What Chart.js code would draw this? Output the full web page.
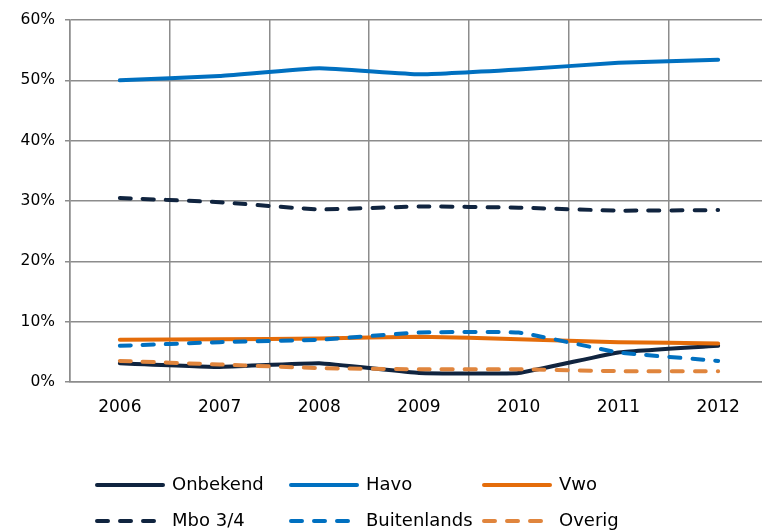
<!DOCTYPE html>
<html>
<head>
<meta charset="utf-8">
<script src="https://cdn.jsdelivr.net/npm/chart.js@4.4.1/dist/chart.umd.min.js"></script>
<style>
  html, body { margin: 0; padding: 0; background: #fff; overflow: hidden; }
  #wrap { width: 790px; height: 531px; }
</style>
</head>
<body>
<div id="wrap"><canvas id="lineChart" width="790" height="531"></canvas></div>
<script>
var years = ["2006", "2007", "2008", "2009", "2010", "2011", "2012"];
var yTicks = [0, 10, 20, 30, 40, 50, 60];

var onbekend    = [3.1, 2.5, 3.1, 1.5, 1.5, 4.9, 6.0];
var havo        = [50.0, 50.7, 52.0, 51.0, 51.8, 52.9, 53.4];
var vwo         = [7.0, 7.1, 7.2, 7.5, 7.1, 6.6, 6.4];
var mbo34       = [30.5, 29.8, 28.6, 29.1, 28.9, 28.4, 28.5];
var buitenlands = [6.0, 6.6, 7.0, 8.2, 8.2, 4.9, 3.5];
var overig      = [3.5, 2.9, 2.3, 2.1, 2.1, 1.8, 1.8];

var navy = '#10243f';
var blue = '#0070c0';
var orange = '#e46c0a';
var lightOrange = '#e0853d';
var gridGrey = '#8c8c8c';
var dash = [11, 12];

function serie(label, data, color, dashed, order){
  return {
    label: label,
    data: data,
    borderColor: color,
    backgroundColor: color,
    borderWidth: 4,
    borderCapStyle: 'round',
    borderJoinStyle: 'round',
    borderDash: dashed ? dash : [],
    pointRadius: 0,
    tension: 0.1,
    fill: false,
    order: order
  };
}

// excel style legend, 3 columns x 2 rows
var legendGrid = {
  id: 'legendGrid',
  afterDraw: function(chart){
    var ctx = chart.ctx;
    var cols = [95, 289, 482];
    var rows = [485, 521];
    chart.data.datasets.forEach(function(ds, i){
      var x = cols[i % 3], y = rows[Math.floor(i / 3)];
      ctx.save();
      ctx.strokeStyle = ds.borderColor;
      ctx.lineWidth = 4;
      ctx.lineCap = 'round';
      ctx.setLineDash(ds.borderDash);
      ctx.beginPath();
      ctx.moveTo(x + 2, y);
      ctx.lineTo(x + (ds.borderDash.length ? 62 : 68), y);
      ctx.stroke();
      ctx.setLineDash([]);
      ctx.fillStyle = '#000';
      ctx.font = '18px "DejaVu Sans"';
      ctx.textBaseline = 'middle';
      ctx.fillText(ds.label, x + 77, y);
      ctx.restore();
    });
  }
};

var ctx = document.getElementById('lineChart');
var myLineChart = new Chart(ctx, {
  type: 'line',
  data: {
    labels: years,
    datasets: [
      serie('Onbekend', onbekend, navy, false, 6),
      serie('Havo', havo, blue, false, 5),
      serie('Vwo', vwo, orange, false, 4),
      serie('Mbo 3/4', mbo34, navy, true, 3),
      serie('Buitenlands', buitenlands, blue, true, 2),
      serie('Overig', overig, lightOrange, true, 1)
    ]
  },
  options: {
    responsive: false,
    animation: false,
    devicePixelRatio: 1,
    layout: { padding: { top: 20, right: 22, bottom: 99, left: 0 } },
    plugins: {
      legend: { display: false },
      tooltip: { enabled: false }
    },
    scales: {
      x: {
        offset: true,
        grid: { offset: true, color: gridGrey, lineWidth: 1.5, drawTicks: false },
        border: { color: gridGrey, width: 1.5 },
        ticks: { color: '#000', padding: 15, font: { family: 'DejaVu Sans', size: 17 } },
        afterFit: function(scale){ scale.height = 50; }
      },
      y: {
        min: 0,
        max: 60,
        afterBuildTicks: function(scale){
          scale.ticks = yTicks.map(function(v){ return { value: v }; });
        },
        grid: { color: gridGrey, lineWidth: 1.5, tickLength: 5 },
        border: { color: gridGrey, width: 1.5 },
        ticks: {
          color: '#000',
          padding: 10,
          font: { family: 'DejaVu Sans', size: 15.5 },
          callback: function(v){ return v + '%'; }
        },
        afterFit: function(scale){ scale.width = 70; }
      }
    }
  },
  plugins: [legendGrid]
});
</script>
</body>
</html>
